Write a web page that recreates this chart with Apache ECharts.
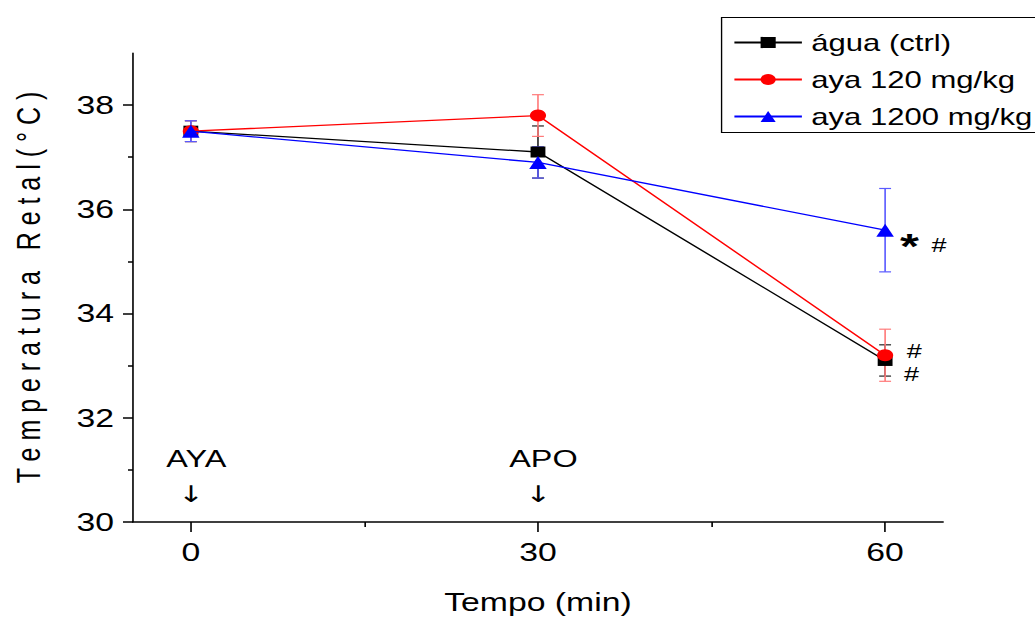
<!DOCTYPE html>
<html>
<head>
<meta charset="utf-8">
<script src="https://cdn.jsdelivr.net/npm/echarts@6/dist/echarts.min.js"></script>
<style>
  html, body { margin: 0; padding: 0; background: #fff; overflow: hidden; }
  /* The figure is drawn narrow and widened horizontally as a whole */
  #chart { width: 820px; height: 620px; transform: scaleX(1.35); transform-origin: 0 0; }
</style>
</head>
<body>
<div id="chart"></div>
<script>
// Time points (min)
const times = [0, 30, 60];

// Rectal temperature, mean and error (°C)
const aguaMean = [37.5, 37.1, 33.1];
const aguaErr = [0.2, 0.5, 0.3];
const aya120Mean = [37.5, 37.8, 33.2];
const aya120Err = [0.2, 0.4, 0.5];
const aya1200Mean = [37.5, 36.9, 35.6];
const aya1200Err = [0.2, 0.3, 0.8];

// Significance marks at each time point
const aguaSig = ['', '', '#'];
const aya120Sig = ['', '', '#'];
const aya1200Sig = ['', '', '*#'];

// Treatment events
const eventTimes = [0, 30];
const eventNames = ['AYA', 'APO'];

// Axis ticks
const xTickLabels = [0, 30, 60];
const xMinorTicks = [15, 45];
const yTickLabels = [30, 32, 34, 36, 38];
const yMinorTicks = [31, 33, 35, 37];

const FONT = "'Liberation Sans', Arial, sans-serif";

function pairs(means) {
  return times.map((t, i) => [t, means[i]]);
}
function bars(means, errs) {
  return times.map((t, i) => [t, means[i] - errs[i], means[i] + errs[i]]);
}
function errorBarRenderer(color) {
  return function (params, api) {
    const x = api.value(0);
    const lo = api.coord([x, api.value(1)]);
    const hi = api.coord([x, api.value(2)]);
    const w = 4.4;
    const style = { stroke: color, lineWidth: 1.2 };
    return {
      type: 'group',
      children: [
        { type: 'line', shape: { x1: hi[0], y1: hi[1], x2: lo[0], y2: lo[1] }, style },
        { type: 'line', shape: { x1: hi[0] - w, y1: hi[1], x2: hi[0] + w, y2: hi[1] }, style },
        { type: 'line', shape: { x1: lo[0] - w, y1: lo[1], x2: lo[0] + w, y2: lo[1] }, style }
      ]
    };
  };
}
function sigLabel(marks, offset) {
  return {
    show: true,
    position: 'right',
    distance: 6,
    offset: offset,
    color: '#000',
    fontFamily: FONT,
    formatter: p => {
      const m = marks[p.dataIndex];
      if (!m) return '';
      return m.split('').map(c => c === '*' ? '{star|*}' : '{hash|#}').join(' ');
    },
    rich: {
      star: { fontSize: 36, fontWeight: 'bold', fontFamily: FONT, color: '#000' },
      hash: { fontSize: 20, fontFamily: FONT, color: '#000', padding: [0, 0, 0, 6] }
    }
  };
}

const chart = echarts.init(document.getElementById('chart'), null, { renderer: 'svg', width: 820, height: 620 });

chart.setOption({
  backgroundColor: '#fff',
  animation: false,
  textStyle: { fontFamily: FONT },
  grid: { left: 98.5, right: 121.5, top: 53, bottom: 97 },
  // Legend frame, running past the right edge of the figure
  graphic: [
    {
      type: 'rect',
      left: 532,
      top: 15,
      shape: { width: 320, height: 115 },
      style: { fill: 'none', stroke: '#000', lineWidth: 1 },
      z: 0,
      silent: true
    }
  ],
  legend: {
    left: 532,
    top: 15,
    orient: 'vertical',
    itemWidth: 50,
    itemHeight: 14,
    itemGap: 14,
    padding: [16, 10, 2, 11],
    borderWidth: 0,
    textStyle: { fontSize: 23, color: '#000', fontFamily: FONT, padding: [0, 0, 0, 2] },
    data: ['água (ctrl)', 'aya 120 mg/kg', 'aya 1200 mg/kg']
  },
  xAxis: [
    {
      type: 'value',
      min: -5,
      max: 65,
      name: 'Tempo (min)',
      nameLocation: 'middle',
      nameGap: 68,
      nameTextStyle: { fontSize: 25, color: '#000', fontFamily: FONT },
      axisLine: { show: true, onZero: false, lineStyle: { color: '#000', width: 1.5 } },
      axisTick: { show: true, inside: false, length: 10, customValues: xTickLabels, lineStyle: { color: '#000', width: 1.2 } },
      axisLabel: { show: true, customValues: xTickLabels, margin: 18, fontSize: 25, color: '#000', fontFamily: FONT },
      splitLine: { show: false }
    },
    {
      type: 'value',
      min: -5,
      max: 65,
      position: 'bottom',
      axisLine: { show: false, onZero: false },
      axisTick: { show: true, inside: false, length: 5, customValues: xMinorTicks, lineStyle: { color: '#000', width: 1.2 } },
      axisLabel: { show: false },
      splitLine: { show: false }
    }
  ],
  yAxis: [
    {
      type: 'value',
      min: 30,
      max: 39,
      name: 'T e m p e r a t u r a   R e t a l ( ° C )',
      nameLocation: 'middle',
      nameRotate: 90,
      nameGap: 65,
      nameTextStyle: { fontSize: 25, color: '#000', fontFamily: FONT },
      axisLine: { show: true, onZero: false, lineStyle: { color: '#000', width: 1.2 } },
      axisTick: { show: true, inside: false, length: 7.4, customValues: yTickLabels, lineStyle: { color: '#000', width: 1.5 } },
      axisLabel: { show: true, customValues: yTickLabels, margin: 14, fontSize: 25, color: '#000', fontFamily: FONT },
      splitLine: { show: false }
    },
    {
      type: 'value',
      min: 30,
      max: 39,
      position: 'left',
      axisLine: { show: false, onZero: false },
      axisTick: { show: true, inside: false, length: 3.7, customValues: yMinorTicks, lineStyle: { color: '#000', width: 1.5 } },
      axisLabel: { show: false },
      splitLine: { show: false }
    }
  ],
  series: [
    {
      type: 'custom',
      name: 'água err',
      renderItem: errorBarRenderer('#222'),
      data: bars(aguaMean, aguaErr),
      encode: { x: 0, y: [1, 2] },
      z: 1,
      silent: true
    },
    {
      type: 'custom',
      name: 'aya120 err',
      renderItem: errorBarRenderer('#ff7a7a'),
      data: bars(aya120Mean, aya120Err),
      encode: { x: 0, y: [1, 2] },
      z: 1,
      silent: true
    },
    {
      type: 'custom',
      name: 'aya1200 err',
      renderItem: errorBarRenderer('#5a5aff'),
      data: bars(aya1200Mean, aya1200Err),
      encode: { x: 0, y: [1, 2] },
      z: 1,
      silent: true
    },
    {
      type: 'line',
      name: 'água (ctrl)',
      data: pairs(aguaMean),
      color: '#000',
      symbol: 'rect',
      symbolSize: 11,
      lineStyle: { color: '#000', width: 1.3 },
      itemStyle: { color: '#000' },
      label: sigLabel(aguaSig, [-3.5, 13]),
      z: 3
    },
    {
      type: 'line',
      name: 'aya 120 mg/kg',
      data: pairs(aya120Mean),
      color: '#ff0000',
      symbol: 'circle',
      symbolSize: 12,
      lineStyle: { color: '#ff0000', width: 1.3 },
      itemStyle: { color: '#ff0000' },
      label: sigLabel(aya120Sig, [-2, -4]),
      z: 4
    },
    {
      type: 'line',
      name: 'aya 1200 mg/kg',
      data: pairs(aya1200Mean),
      color: '#0000ff',
      symbol: 'triangle',
      symbolSize: 13,
      lineStyle: { color: '#0000ff', width: 1.3 },
      itemStyle: { color: '#0000ff' },
      label: sigLabel(aya1200Sig, [-1.5, 15]),
      z: 5
    },
    {
      type: 'scatter',
      name: 'events',
      data: eventTimes.map((t, i) => ({ value: [t, 30.88], name: eventNames[i] })),
      symbolSize: 0,
      silent: true,
      itemStyle: { opacity: 1 },
      label: {
        show: true,
        position: 'inside',
        color: '#000',
        opacity: 1,
        textBorderWidth: 0,
        formatter: p => '{t|' + p.name + '}\n{a|↓}',
        rich: {
          t: { fontSize: 24, color: '#000', fontFamily: FONT, lineHeight: 35, padding: [0, 0, 0, 8], textBorderWidth: 0 },
          a: { fontSize: 23, color: '#000', fontFamily: "'DejaVu Sans', sans-serif", lineHeight: 35, textBorderWidth: 0 }
        }
      },
      z: 2
    }
  ]
});
</script>
</body>
</html>
